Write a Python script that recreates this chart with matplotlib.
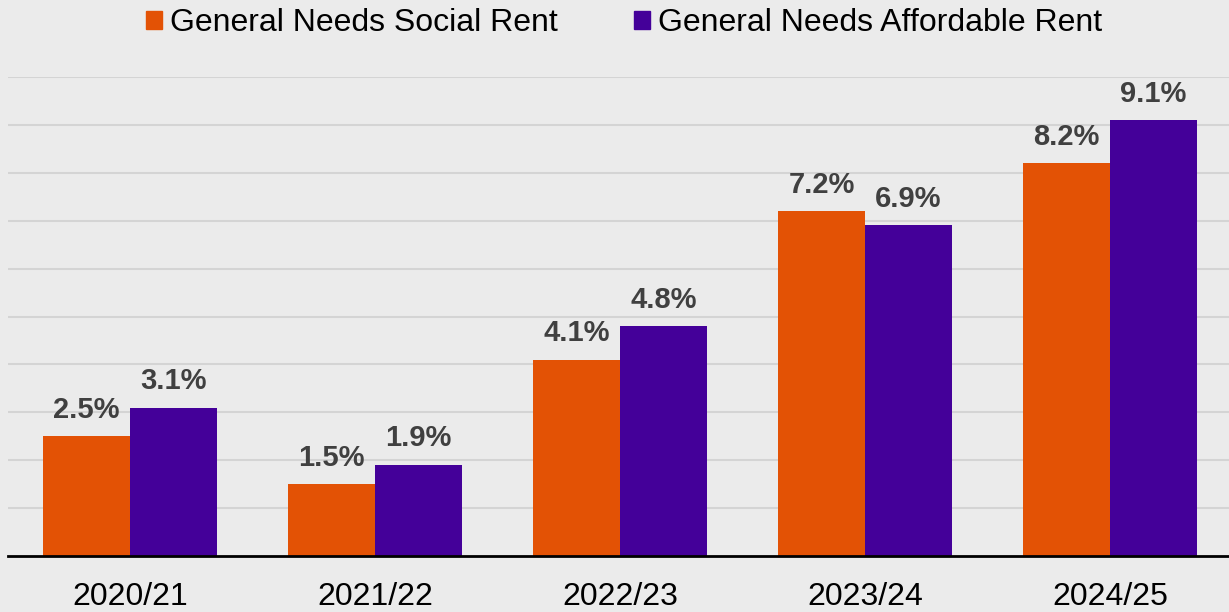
import numpy as np
import matplotlib.pyplot as plt
from matplotlib.patches import Patch

plt.rcParams['font.family'] = ['Liberation Sans', 'DejaVu Sans']

years = ['2020/21', '2021/22', '2022/23', '2023/24', '2024/25']
social_rent = [2.5, 1.5, 4.1, 7.2, 8.2]
affordable_rent = [3.1, 1.9, 4.8, 6.9, 9.1]
series_names = ['General Needs Social Rent', 'General Needs Affordable Rent']
colors = ['#e35205', '#440099']
bg = '#ebebeb'

fig = plt.figure(figsize=(12.29, 6.12), dpi=100, facecolor=bg)
ax = fig.add_axes([7.5 / 1229, 56 / 612, 1225 / 1229, 479 / 612])
ax.set_facecolor(bg)

x = np.arange(len(years))
w = 0.355
bars1 = ax.bar(x - w / 2, social_rent, w, color=colors[0], zorder=3)
bars2 = ax.bar(x + w / 2, affordable_rent, w, color=colors[1], zorder=3)

for bars, vals in [(bars1, social_rent), (bars2, affordable_rent)]:
    for b, v in zip(bars, vals):
        ax.annotate(f'{v}%', (b.get_x() + b.get_width() / 2, v),
                    xytext=(0, 9), textcoords='offset points',
                    ha='center', va='bottom', fontsize=21, fontweight='bold',
                    color='#404040')

ax.set_xlim(-0.5, len(years) - 0.5)
ax.set_ylim(0, 10)
ax.set_yticks(np.arange(1, 11))
ax.yaxis.grid(True, color='#d4d4d4', linewidth=1.5, zorder=0)
ax.tick_params(axis='y', left=False, labelleft=False)
ax.set_xticks(x)
ax.set_xticklabels(years, fontsize=23)
ax.tick_params(axis='x', length=0, pad=19)
for s in ['top', 'right', 'left']:
    ax.spines[s].set_visible(False)
ax.spines['bottom'].set_color('black')
ax.spines['bottom'].set_linewidth(2)
ax.spines['bottom'].set_zorder(4)

handles = [Patch(color=c, label=n) for c, n in zip(colors, series_names)]
fig.legend(handles=handles, loc='center',
           bbox_to_anchor=(0.5 + 9.5 / 1229, 1 - 23 / 612),
           ncol=2, frameon=False, fontsize=23, handlelength=0.5,
           handleheight=0.5, handletextpad=0.25, columnspacing=2.4)

fig.savefig('out.png', dpi=100, facecolor=bg)
